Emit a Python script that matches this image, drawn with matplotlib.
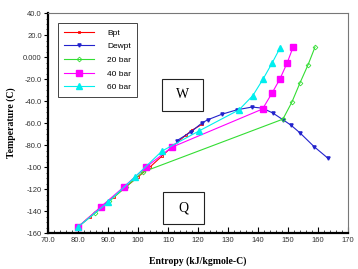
import matplotlib
matplotlib.use('Agg')
import matplotlib.pyplot as plt
from matplotlib.patches import Rectangle
from matplotlib.ticker import MultipleLocator, FuncFormatter

# Phase envelope
bpt_s = [80.0, 84.0, 88.0, 92.0, 96.0, 100.0, 104.0, 108.0, 112.0, 116.0, 118.0, 121.5]
bpt_t = [-154.5, -145, -136, -127, -118, -109, -100, -90, -80, -71, -66.5, -61]

dew_s = [113.0, 117.7, 121.3, 123.3, 128.0, 133.0, 138.0, 141.5, 145.0, 148.3, 151.0, 154.0, 158.7, 163.3]
dew_t = [-76, -68, -60, -57, -52, -48, -45.5, -46.5, -51, -57, -62, -69, -81.5, -92]

# Process lines at different pressures
s20 = [80.0, 85.7, 90.5, 96.0, 101.7, 148.3, 151.3, 154.0, 156.7, 159.0]
t20 = [-154.5, -142, -131, -118, -104.5, -56.5, -41, -23.5, -7, 9]

s40 = [80.0, 87.7, 95.3, 102.7, 111.3, 141.5, 144.7, 147.3, 149.7, 151.7]
t40 = [-154.5, -136, -118, -100, -82, -47.3, -32.7, -20, -5.5, 9]

s60 = [80.0, 90.0, 99.0, 108.0, 120.5, 133.7, 138.3, 141.7, 144.7, 147.3]
t60 = [-154.5, -132, -109, -85.5, -67, -48, -35, -20, -5.5, 8]

fig = plt.figure(figsize=(3.58, 2.69), dpi=100)
ax = fig.add_axes([48 / 358, 1 - 233 / 269, 300 / 358, 220 / 269])

ax.plot(bpt_s, bpt_t, color='red', lw=0.8, marker='s', ms=2.0, mfc='none', mew=0.6, label='Bpt')
ax.plot(dew_s, dew_t, color='#2222cc', lw=0.8, marker='v', ms=2.3, label='Dewpt')
ax.plot(s20, t20, color='#33dd33', lw=0.8, marker='D', ms=2.4, mfc='none', mew=0.6, label='20 bar')
ax.plot(s40, t40, color='#ff00ff', lw=0.8, marker='s', ms=4.6, label='40 bar')
ax.plot(s60, t60, color='#00eeee', lw=0.8, marker='^', ms=4.8, label='60 bar')

ax.set_xlim(70, 170)
ax.set_ylim(-160, 40)

def fmt3(v, pos):
    if v == 0:
        return '0.000'
    if abs(v) >= 100:
        return '%d' % v
    return '%.1f' % v

ax.xaxis.set_major_locator(MultipleLocator(10))
ax.xaxis.set_minor_locator(MultipleLocator(2))
ax.yaxis.set_major_locator(MultipleLocator(20))
ax.yaxis.set_minor_locator(MultipleLocator(5))
ax.xaxis.set_major_formatter(FuncFormatter(fmt3))
ax.yaxis.set_major_formatter(FuncFormatter(fmt3))
ax.tick_params(axis='x', which='both', direction='in', labelsize=5.5, pad=3)
ax.tick_params(axis='x', which='major', length=4, width=0.8)
ax.tick_params(axis='x', which='minor', length=2, width=0.5)
ax.tick_params(axis='y', which='both', direction='out', labelsize=5.5, pad=1.5)
ax.tick_params(axis='y', which='major', length=3, width=0.8)
ax.tick_params(axis='y', which='minor', length=1.5, width=0.5)
for lab in ax.get_xticklabels() + ax.get_yticklabels():
    lab.set_family('Liberation Sans')
    lab.set_color('#333333')

ax.spines['left'].set_linewidth(1.6)
ax.spines['bottom'].set_linewidth(1.6)
for side in ('top', 'right'):
    ax.spines[side].set_color('#777777')
    ax.spines[side].set_linewidth(0.8)

ax.set_xlabel('Entropy (kJ/kgmole-C)', family='Liberation Serif', fontweight='bold', fontsize=7, labelpad=9)
ax.set_ylabel('Temperature (C)', family='Liberation Serif', fontweight='bold', fontsize=7, labelpad=5)

# region boxes
for (x0, x1, y0, y1, txt) in [(108.0, 121.7, -49.0, -20.0, 'W'), (108.3, 122.0, -151.8, -122.7, 'Q')]:
    ax.add_patch(Rectangle((x0, y0), x1 - x0, y1 - y0, fill=False, ec='#222222', lw=0.8))
    ax.text((x0 + x1) / 2, (y0 + y1) / 2, txt, ha='center', va='center',
            family='Liberation Serif', fontsize=10)

leg = ax.legend(loc='upper left', bbox_to_anchor=(58 / 358, 1 - 23 / 269), bbox_transform=fig.transFigure,
                fancybox=False, framealpha=1, edgecolor='#444444',
                prop={'family': 'Liberation Sans', 'size': 6},
                handlelength=3.6, handletextpad=1.6, labelspacing=0.7, borderpad=0.7, borderaxespad=0)
leg.get_frame().set_linewidth(0.7)

fig.savefig('out.png', dpi=100)
